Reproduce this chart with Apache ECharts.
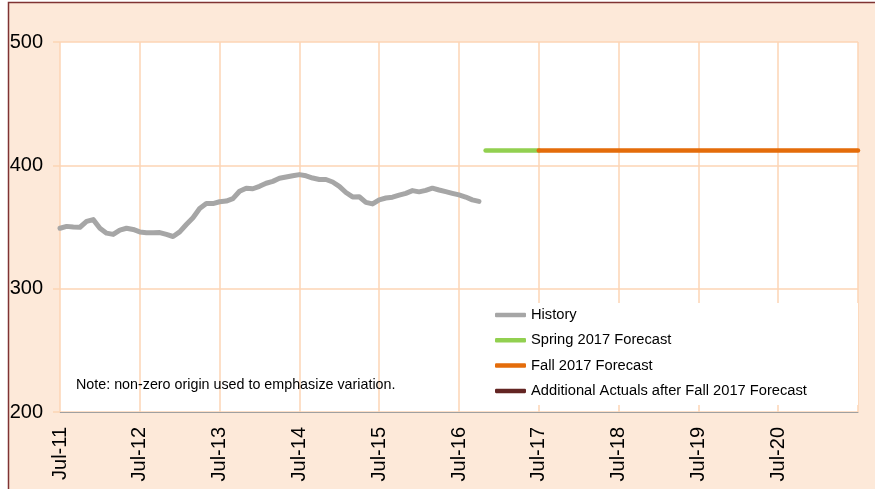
<!DOCTYPE html>
<html>
<head>
<meta charset="utf-8">
<script src="https://cdn.jsdelivr.net/npm/echarts@6/dist/echarts.min.js"></script>
<style>
  html, body { margin: 0; padding: 0; background: #ffffff; }
  #chart { width: 875px; height: 489px; }
</style>
</head>
<body>
<div id="chart"></div>
<script>
// ---- Data ----
const monthNames = ['Jan','Feb','Mar','Apr','May','Jun','Jul','Aug','Sep','Oct','Nov','Dec'];
// monthly categories Jul-11 .. Jul-21
const categories = [];
for (let i = 0; i <= 120; i++) {
  const m = (6 + i) % 12;
  const y = 11 + Math.floor((6 + i) / 12);
  categories.push(monthNames[m] + '-' + y);
}
const tickLabels = ['Jul-11','Jul-12','Jul-13','Jul-14','Jul-15','Jul-16','Jul-17','Jul-18','Jul-19','Jul-20'];
const gridLines = ['Jul-11','Jul-12','Jul-13','Jul-14','Jul-15','Jul-16','Jul-17','Jul-18','Jul-19','Jul-20','Jul-21'];

// History: monthly values from Jul-11
const history = [
  349, 350.5, 350, 349.8, 354.5, 356, 349, 345, 344, 347.5, 349, 348,
  346, 345.4, 345.4, 345.5, 344, 342.3, 346, 352, 357.5, 365, 369, 369,
  370.5, 371, 373, 379, 381.5, 381, 383, 385.5, 387, 389.5, 390.5, 391.5,
  392.5, 391.5, 389.7, 388.5, 388.5, 386.5, 383, 378, 374.4, 374.5, 370, 368.7,
  372, 373.5, 374.2, 375.8, 377.3, 379.5, 378.5, 379.7, 381.5, 380, 378.7, 377.3,
  376, 374.3, 372, 370.8
];
const springForecast = [['Nov-16', 412], ['Jul-17', 412]];
const fallForecast = [['Jul-17', 412], ['Jul-21', 412]];
const additionalActuals = [];

const seriesNames = ['History', 'Spring 2017 Forecast', 'Fall 2017 Forecast', 'Additional Actuals after Fall 2017 Forecast'];
const colors = ['#a6a6a6', '#92d050', '#e46c0a', '#632523'];

const FONT = 'Liberation Sans, Arial, sans-serif';
const GRIDC = '#fcd5b4';

const chart = echarts.init(document.getElementById('chart'), null, { renderer: 'canvas' });
chart.setOption({
  animation: false,
  backgroundColor: '#ffffff',
  textStyle: { fontFamily: FONT },
  graphic: [
    {
      type: 'rect', z: -100, silent: true,
      shape: { x: 8.5, y: 2.5, width: 1000, height: 1000 },
      style: { fill: '#fde9d9', stroke: '#7f3333', lineWidth: 1.5 }
    },
    {
      type: 'rect', z: 50, silent: true,
      shape: { x: 482, y: 303, width: 376, height: 102 },
      style: { fill: '#ffffff' }
    },
    {
      type: 'text', z: 60, silent: true,
      left: 76, top: 378,
      style: { text: 'Note: non-zero origin used to emphasize variation.', fill: '#000000', font: '14.3px ' + FONT }
    }
  ],
  grid: {
    left: 60, right: 17, top: 42, bottom: 77,
    show: true, backgroundColor: '#ffffff', borderWidth: 0
  },
  legend: {
    z: 100,
    orient: 'vertical',
    left: 495, top: 307.5,
    padding: 0,
    icon: 'roundRect',
    itemWidth: 31, itemHeight: 4.5, itemGap: 10.3,
    data: seriesNames,
    textStyle: { color: '#000000', fontSize: 14.7, lineHeight: 15, fontFamily: FONT }
  },
  xAxis: {
    type: 'category',
    data: categories,
    boundaryGap: false,
    axisLine: { show: true, lineStyle: { color: '#a0a0a0', width: 1 } },
    axisTick: { show: false },
    axisLabel: {
      interval: function (idx, val) { return tickLabels.indexOf(val) >= 0; },
      rotate: 90,
      margin: 15,
      color: '#000000',
      fontSize: 20,
      fontFamily: FONT
    },
    splitLine: {
      show: true,
      interval: function (idx, val) { return gridLines.indexOf(val) >= 0; },
      lineStyle: { color: GRIDC, width: 1.5 }
    }
  },
  yAxis: {
    type: 'value',
    min: 200, max: 500, interval: 100,
    axisLine: { show: false },
    axisTick: { show: true, length: 7, lineStyle: { color: GRIDC, width: 1.5 } },
    axisLabel: { color: '#000000', fontSize: 20, fontFamily: FONT, margin: 17 },
    splitLine: { show: true, lineStyle: { color: GRIDC, width: 1.5 } }
  },
  series: [
    {
      name: seriesNames[0], type: 'line', data: history,
      symbol: 'none', color: colors[0],
      lineStyle: { color: colors[0], width: 5, cap: 'round', join: 'round' }, z: 5
    },
    {
      name: seriesNames[1], type: 'line', data: springForecast,
      symbol: 'none', color: colors[1],
      lineStyle: { color: colors[1], width: 4.5, cap: 'round' }, z: 5
    },
    {
      name: seriesNames[2], type: 'line', data: fallForecast,
      symbol: 'none', color: colors[2],
      lineStyle: { color: colors[2], width: 4.5, cap: 'round' }, z: 6
    },
    {
      name: seriesNames[3], type: 'line', data: additionalActuals,
      symbol: 'none', color: colors[3],
      lineStyle: { color: colors[3], width: 4.5, cap: 'round' }, z: 5
    }
  ]
});
</script>
</body>
</html>
